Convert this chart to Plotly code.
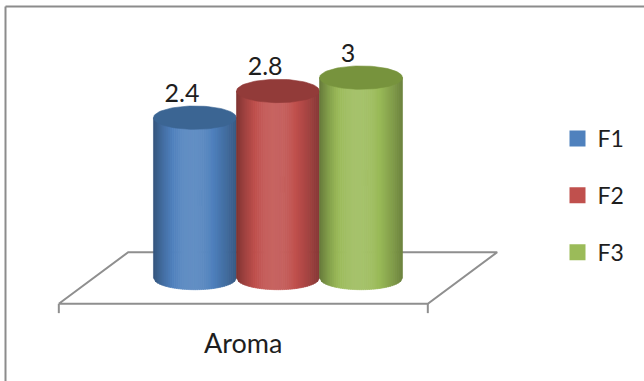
import numpy as np
import plotly.graph_objects as go

# ---- data ----
categories = ["Aroma"]
series_names = ["F1", "F2", "F3"]
values = [2.4, 2.8, 3.0]
base_colors = ["#4f81bd", "#c0504d", "#9bbb59"]
top_colors = ["#3b6593", "#923b39", "#77933d"]

# ---- geometry (axis units) ----
bar_w = 0.225          # cylinder width in category units
ell_b = 0.175          # ellipse vertical semi-axis (value units)
depth_dx = 0.094       # floor depth shift x
depth_dy = 0.386       # floor depth shift y
n_strips = 40
FONT = "Lato"
TXT = "#1e1e1e"


def shade(hexc, k):
    h = hexc.lstrip("#")
    rgb = np.array([int(h[i:i + 2], 16) for i in (0, 2, 4)], dtype=float)
    if k <= 1:
        out = rgb * k
    else:
        out = rgb + (255 - rgb) * (k - 1)
    out = np.clip(out, 0, 255).astype(int)
    return "rgb(%d,%d,%d)" % tuple(out)


def kfun(t):
    p = np.log(0.5) / np.log(0.45)
    return 0.64 + 0.45 * np.sin(np.pi * t ** p) + 0.06 * t


fig = go.Figure()

cat_x = 0.0  # position of the only category
n = len(series_names)
centers = [cat_x + (i - (n - 1) / 2) * bar_w for i in range(n)]

# legend entries (hidden behind cylinders)
for name, c, v, col in zip(series_names, centers, values, base_colors):
    fig.add_trace(go.Scatter(
        x=[c], y=[v / 2], mode="markers", name=name,
        marker=dict(symbol="square", size=16, color=col, line=dict(width=0)),
        legendgroup=name, hoverinfo="skip"))

# floor
fx0, fx1 = cat_x - 0.5, cat_x + 0.5
floor_x = [fx0 - depth_dx, fx1 - depth_dx, fx1 + depth_dx, fx0 + depth_dx, fx0 - depth_dx]
floor_y = [-depth_dy, -depth_dy, depth_dy, depth_dy, -depth_dy]
fig.add_trace(go.Scatter(x=floor_x, y=floor_y, mode="lines",
                         line=dict(color="#8f8f8f", width=2),
                         showlegend=False, hoverinfo="skip"))
tick_len = 0.14
fig.add_trace(go.Scatter(
    x=[fx0 - depth_dx, fx0 - depth_dx, None, fx1 - depth_dx, fx1 - depth_dx],
    y=[-depth_dy, -depth_dy - tick_len, None, -depth_dy, -depth_dy - tick_len],
    mode="lines", line=dict(color="#8f8f8f", width=2),
    showlegend=False, hoverinfo="skip"))

# cylinders
a = bar_w / 2
for name, c, v, col, tcol in zip(series_names, centers, values, base_colors, top_colors):
    edges = np.linspace(-a, a, n_strips + 1)
    for j in range(n_strips):
        xa, xb = edges[j], edges[j + 1]
        xb2 = min(xb + a * 0.01, a)
        ua, ub = xa / a, xb2 / a
        ya = -ell_b * np.sqrt(max(0.0, 1 - ua ** 2))
        yb = -ell_b * np.sqrt(max(0.0, 1 - ub ** 2))
        t = (j + 0.5) / n_strips
        fc = shade(col, kfun(t))
        fig.add_trace(go.Scatter(
            x=[c + xa, c + xb2, c + xb2, c + xa, c + xa],
            y=[v, v, yb, ya, v],
            fill="toself", fillcolor=fc, mode="lines",
            line=dict(width=0.6, color=fc),
            showlegend=False, hoverinfo="skip"))
    th = np.linspace(0, 2 * np.pi, 90)
    fig.add_trace(go.Scatter(
        x=c + a * np.cos(th), y=v + ell_b * np.sin(th),
        fill="toself", fillcolor=tcol, mode="lines",
        line=dict(width=0.6, color=tcol),
        showlegend=False, hoverinfo="skip"))

# data labels
lbl_dx = -0.035
lbl_dy = 0.33
fig.add_trace(go.Scatter(
    x=[c + lbl_dx for c in centers], y=[v + lbl_dy for v in values],
    mode="text", text=[("%g" % v) for v in values],
    textposition="middle center",
    textfont=dict(family=FONT, size=25, color=TXT),
    showlegend=False, hoverinfo="skip"))

# category label
fig.add_annotation(x=cat_x - depth_dx, y=-0.966, text=categories[0],
                   showarrow=False, xanchor="center", yanchor="middle",
                   font=dict(family=FONT, size=27, color=TXT))

# outer border
fig.add_shape(type="line", xref="paper", yref="paper",
              x0=5.5 / 644, x1=1.0, y0=1 - 6.5 / 381, y1=1 - 6.5 / 381,
              line=dict(color="#8c8c8c", width=2))
fig.add_shape(type="line", xref="paper", yref="paper",
              x0=5.5 / 644, x1=5.5 / 644, y0=0, y1=1 - 6.5 / 381,
              line=dict(color="#8c8c8c", width=2))

fig.update_layout(
    width=644, height=381,
    margin=dict(l=0, r=0, t=0, b=0),
    paper_bgcolor="white", plot_bgcolor="white",
    xaxis=dict(range=[-0.7534, 0.9919], visible=False, fixedrange=True),
    yaxis=dict(range=[-1.542, 4.162], visible=False, fixedrange=True),
    showlegend=True,
    legend=dict(x=(577.5 - 20) / 644, xanchor="left",
                y=1 - 117 / 381, yanchor="top",
                font=dict(family=FONT, size=23, color=TXT),
                tracegroupgap=24, bgcolor="rgba(0,0,0,0)",
                itemclick=False, itemdoubleclick=False),
    font=dict(family=FONT, color=TXT),
)

fig.write_html("out.html")
